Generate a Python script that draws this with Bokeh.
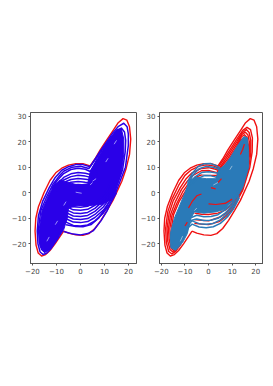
from bokeh.plotting import figure
from bokeh.layouts import row
from bokeh.embed import file_html
from bokeh.resources import INLINE

x_ticks = [-20, -10, 0, 10, 20]
y_ticks = [-20, -10, 0, 10, 20, 30]
red_colour = "#f01010"
blue_colour = "#2a00e8"
c0_colour = "#2a7ab8"

red_paths = [
    [(-7,-15),(-10.6,-20),(-12.7,-22.6),(-14.5,-24.2),(-16.2,-24.8),(-17.6,-23.6),(-18.5,-20.5),(-18.9,-15),(-18.6,-10),(-17.5,-5.5),(-15.2,0),(-12.7,4.8),(-10.3,7.8),(-7.8,9.6),(-5,10.8),(-2,11.4),(1,11.4),(4,10.5),(6,13.2),(8.2,16.8),(11,20.8),(13.8,24.7),(15.7,27.4),(17.7,29),(19.3,28.4),(20.4,25.8),(20.9,21),(20.4,15),(19,9.5),(17.2,4.5),(13.5,-3),(11,-7),(8.5,-10.8),(6,-14),(3.5,-16),(1,-16.7),(-2,-16.5),(-5,-15.8),(-7,-15)],
    [(-9,-15),(-12,-20.5),(-14,-23),(-15.5,-24),(-16.9,-23),(-17.9,-19.5),(-18.2,-14),(-17.3,-7.5),(-15.5,-2.5),(-12.5,3.2),(-10,6.8),(-7.5,8.8),(-4,10.4),(-1,10.9),(2,10.5),(4,9.7),(7.5,14.5),(12,21),(14.5,24.4),(16.3,25.6),(17.8,24.7),(18.6,21.5),(18.5,16),(17.5,10),(14.5,1),(10.5,-6),(7.5,-9.2),(4.5,-11.3),(0,-12.5),(-3,-12.3),(-6,-12)],
    [(-9,-14.5),(-12,-20),(-13.8,-22.4),(-15,-23.3),(-16.3,-22.3),(-17.3,-19),(-17.6,-14),(-16.7,-8),(-15,-3.2),(-12,2),(-9.5,5.5),(-7,7.8),(-3,9.5),(0,9.8),(2.5,9.3),(4,8.8),(7.5,13.5),(12,20),(14.3,23.5),(16,24.7),(17.2,23.6),(17.9,20.5),(17.9,15.5),(17,9.5),(14,0.5),(10,-5.5),(7.5,-8),(5,-9.5),(0,-11),(-3,-10.8),(-6,-10.5)],
    [(-9,-14),(-12,-19.5),(-13.7,-21.8),(-14.7,-22.7),(-15.8,-21.8),(-16.7,-18.5),(-17,-14),(-16.1,-8.5),(-14.2,-3.8),(-11.5,1.2),(-9,4.5),(-7,6.6),(-3,8.6),(0,8.7),(3.5,7.8),(7.5,12.5),(12,19),(14.2,22.8),(15.6,23.7),(16.7,22.6),(17.4,19.5),(17.4,15),(16.5,9),(13.5,0),(9.5,-5),(7,-6.8),(4,-8),(0,-8.5),(-3,-8.4),(-6,-8)],
    [(-9,-13.5),(-12,-19),(-13.4,-21.2),(-14.3,-22),(-15.3,-21),(-16.1,-18),(-16.4,-14),(-15.5,-8.8),(-13.5,-4.2),(-11,0.3),(-8.5,3.6),(-6,5.8),(-3,7),(0,6.8),(3.5,6.8),(7.5,11.5),(12,18),(13.9,21.8),(15.2,22.7),(16.3,21.6),(16.9,18.5),(16.9,14.5),(16,8.5),(13,-0.5),(9,-4.2),(5,-4.8),(0,-4.6),(-3,-4.7),(-6,-5)],
    [(-8,-12),(-11,-17),(-12.7,-19.6),(-13.5,-20.5),(-14.5,-19.6),(-15.3,-16.5),(-15.6,-13),(-14.8,-8.5),(-12.5,-3.5),(-9.5,1),(-6,3),(-3,1.6),(0,0.6),(3,2),(7,9),(11.5,16.5),(13.7,20.6),(14.8,21.5),(15.8,20.5),(16.4,17.5),(16.4,14),(15.5,8),(12.5,-1),(9,-3),(5,-2.4),(0,-1.8),(-5,-2.4)],
]

blue_left_paths = [
    [(-9,-17.2),(-12,-21.5),(-14,-23.6),(-15.5,-24.2),(-16.8,-23.2),(-17.7,-20),(-18,-15),(-17.5,-9),(-15.8,-3.5),(-13,2),(-10.5,6),(-7.8,8.8),(-5,10.2),(-2,11),(1,11),(4,10.2),(6,13),(8,16),(13.5,23.5),(15.8,26),(18,27.2),(19.4,25.8),(19.9,23),(19.9,18.5),(18.7,10),(15,1),(11,-7.2),(8.5,-11),(5.4,-14.8),(3,-16),(0,-16.5),(-3,-16.2),(-7,-15.2)],
    [(-9,-16),(-12,-20.5),(-13.8,-22.5),(-15,-23.2),(-16.2,-22.2),(-17.1,-19.4),(-17.5,-14),(-16.5,-7),(-14,-1.5),(-11.5,3.2),(-9,6.4),(-7,8.4),(-3.5,10),(0,10.4),(3.5,9.5),(8,15.5),(13,22),(15.4,24.6),(17,25.3),(18.3,23.8),(18.8,20.5),(18.6,16),(17.5,9),(14.5,1),(10.5,-6),(7.5,-10),(4.5,-12.4),(1,-13.3),(-2,-13.2),(-6,-12.5)],
    [(-12,1.5),(-10,4.5),(-7,7.5),(-4,9.1),(-1,9.6),(2,9.2),(4,8.3),(7,13)],
    [(-11.5,1),(-9.5,3.5),(-7,6),(-4,7.4),(-1,7.9),(2,7.6),(4.5,7),(7,11)],
    [(-11,0.5),(-9,3),(-7,5),(-4,6.3),(-1,6.8),(2,6.5),(4.5,6),(7,10)],
    [(-10,0.5),(-8,3),(-6,4.4),(-4,5.2),(-1,5.6),(2,5.3),(4.5,5),(7,9)],
    [(-8,2),(-6,3.4),(-4,4.1),(-1,4.4),(2,4.1),(4.5,4),(7,8)],
    [(-7,1.5),(-4,3),(-1,3.2),(2,3),(4.5,3)],
    [(15,0),(12.5,-4),(9.5,-8),(6,-11),(3,-12.6),(0,-13),(-3,-12.8),(-6,-11.5),(-8,-12.5)],
    [(15,1),(12.5,-3),(9.5,-6.8),(6,-9.7),(3,-11.3),(0,-11.7),(-3,-11.5),(-6,-10.2),(-8,-11.5)],
    [(14.5,2),(12.5,-1.8),(9.5,-5.6),(6,-8.5),(3,-10.1),(0,-10.5),(-3,-10.3),(-6,-9),(-8,-10.5)],
    [(14.5,3),(12.5,-0.6),(9.5,-4.4),(6,-7.3),(3,-8.9),(0,-9.3),(-3,-9.1),(-6,-7.8),(-8,-9.5)],
    [(14,4),(12.5,0.6),(9.5,-3.2),(6,-6.1),(3,-7.7),(0,-8.1),(-3,-7.9),(-6,-6.6),(-8,-8.5)],
    [(14,5),(12,1),(9.5,-2),(6,-4.9),(3,-6.5),(0,-6.9),(-3,-6.7),(-6,-5.4),(-8,-7.5)],
    [(13,5),(11,1),(9,-1.5),(6,-3.7),(3,-5.3),(0,-5.7),(-3,-5.5),(-6,-4.2),(-8,-6.5)],
]
blue_left_core = [
    [(-15,-23.4),(-16.8,-21),(-17.3,-15),(-16,-7),(-13.5,-1.5),(-11,3),(-8.5,5),(-5,4),(-1,3),(3,3.5),(4,8),(7,13.5),(11,19.5),(15,24.6),(17,25),(18,21),(18,15),(17,8),(14.5,1),(12,-3),(9,-4.5),(4,-5),(-1,-5),(-5,-6),(-5.5,-10),(-7,-14.5),(-10,-18.8),(-12.5,-22)],
]
left_flecks = [
    [(-14,-19),(-13,-17.3)],[(-10.5,-12.5),(-9.5,-11)],[(-7,-5),(-6,-3.5)],[(-2,0.2),(0.5,-0.2)],
    [(5,4.5),(6.5,5.5)],[(10.5,12),(11.5,13.5)],[(14,19),(15,20.5)],[(4,3),(5,4)],
]

blue_right_paths = [
    [(-9,4),(-7,7.5),(-4.5,10.2),(-2,11.3),(1,11.4),(3,10.7),(5,9.5)],
    [(-9,3),(-6.5,7),(-4,9.4),(-1,10.3),(2,10),(5,9)],
    [(-8,3),(-6,6),(-3,7.9),(0,8.2),(3,7.8),(5,7.5)],
    [(-7,3),(-5,5.5),(-2,6.6),(1,6.6),(4,6)],
    [(13,-2),(10.5,-6.5),(8,-9.5),(5,-12),(2,-13.3),(-1,-13.7),(-4,-13.4),(-7,-12.3),(-9,-14)],
    [(13,-1),(10.5,-5.3),(8,-8.2),(5,-10.6),(2,-12),(-1,-12.3),(-4,-12.1),(-7,-11),(-9,-13)],
    [(12.5,0),(10,-5),(7,-8),(4,-10),(1,-10.8),(-2,-10.9),(-5,-10.3),(-8,-11)],
    [(12.5,1),(10,-4),(7,-6.7),(4,-8.6),(1,-9.3),(-2,-9.4),(-5,-8.8),(-8,-10)],
]
blue_right_core = [
    [(-14,-22.6),(-16,-21.5),(-16.2,-16),(-14.5,-10),(-12.7,-6),(-10,0),(-8,5),(-5,6),(-1,5.5),(3,5.5),(4.5,9),(7,11),(9.4,14),(12,18),(15,22),(16.5,21.5),(17,16),(17,10),(14.5,2),(12,-2),(10,-3),(7,-6.5),(3,-7.5),(-2,-8),(-6,-7.5),(-7.5,-10),(-9,-16),(-11,-19.5)],
]
right_red_flecks = [
    [(-8.5,-6),(-7,-3.5),(-5,-1.2),(-3,-0.5)],[(0,-4.4),(3,-4.6),(7,-4.2),(10,-2.5)],
    [(1,2),(3,1.5)],[(13.5,15),(14.5,17),(15.2,19)],[(-10,-13),(-9,-11.5)],[(4,4),(5.5,5.5)],
]
right_flecks = [
    [(-12,-19),(-11,-17)],[(-6,-7),(-5,-6)],[(2,3),(4,4)],[(9,9),(10,10.5)],[(-3,7),(1,7.3)],
]


def unzip(paths):
    return [[pt[0] for pt in path] for path in paths], [[pt[1] for pt in path] for path in paths]


def panel(width, left, under, core, paths, colour, flecks, fleck_colour, reds):
    p = figure(width=width, height=280, output_backend="svg", toolbar_location=None,
               x_range=(-20.8, 23.3), y_range=(-27.7, 31.4),
               min_border_left=left, min_border_right=width - left - 106,
               min_border_top=112, min_border_bottom=17)
    p.grid.visible = False
    p.outline_line_color = "#555555"
    p.outline_line_width = 1
    for ax, ticks in ((p.xaxis, x_ticks), (p.yaxis, y_ticks)):
        ax.ticker = ticks
        ax.major_label_text_font = "DejaVu Sans"
        ax.major_label_text_font_size = "7px"
        ax.major_label_text_color = "#444444"
        ax.major_label_standoff = 2
        ax.axis_line_color = "#555555"
        ax.major_tick_line_color = "#555555"
        ax.major_tick_in = 0
        ax.major_tick_out = 2
        ax.minor_tick_line_color = None
    xs, ys = unzip(under)
    p.multi_line(xs, ys, line_color=red_colour, line_width=1.4, line_join="round")
    cx, cy = unzip(core)
    p.patches(cx, cy, fill_color=colour, line_color=colour, line_width=1)
    xs, ys = unzip(paths)
    p.multi_line(xs, ys, line_color=colour, line_width=1.5, line_join="round")
    if reds:
        xs, ys = unzip(reds)
        p.multi_line(xs, ys, line_color=red_colour, line_width=1.2, line_join="round")
    xs, ys = unzip(flecks)
    p.multi_line(xs, ys, line_color=fleck_colour, line_width=0.8)
    return p


left_panel = panel(137, 30, red_paths[:1], blue_left_core, blue_left_paths, blue_colour, left_flecks, "#b8b0ff", None)
right_panel = panel(126, 20, red_paths, blue_right_core, blue_right_paths, c0_colour, right_flecks, "#a8c8e0", right_red_flecks)
page = row(left_panel, right_panel, spacing=0)
open("out.html", "w").write(file_html(page, INLINE))
